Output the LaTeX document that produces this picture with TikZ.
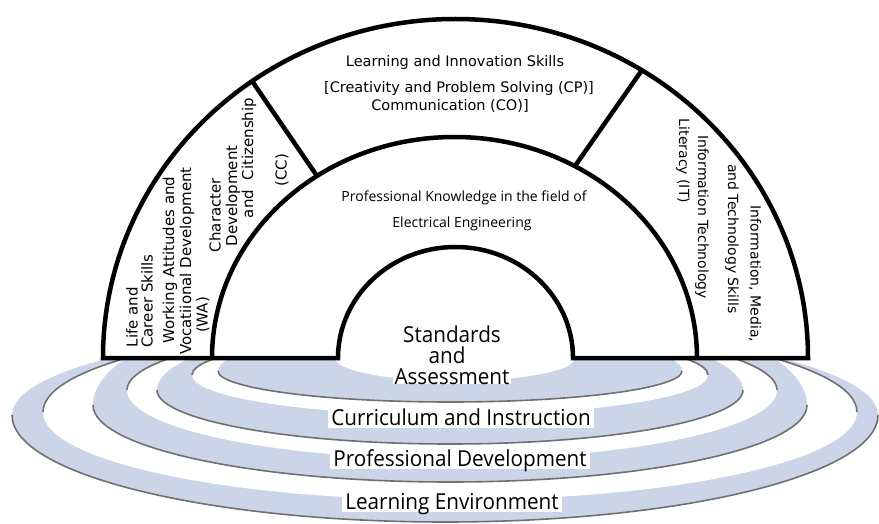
\documentclass[tikz,border=0pt]{standalone}
\usepackage{fontspec}
\setmainfont{DejaVu Sans}
\newfontfamily\knowfont{Open Sans}
\newfontfamily\ripplefont[FakeStretch=0.94]{Open Sans}
\definecolor{ringblue}{RGB}{203,213,232}
\definecolor{ringshade}{RGB}{112,112,112}

% one blue ripple: centre x, centre y, half width, upper half height, lower half height
\newcommand\rippleband[5]{%
  \fill[ringblue] ({#1-#3},#2) arc[start angle=180,end angle=360,x radius=#3,y radius=#4]
                  arc[start angle=0,end angle=180,x radius=#3,y radius=#5] -- cycle;
  \draw[shadeline] ({#1-#3},#2) arc[start angle=180,end angle=0,x radius=#3,y radius=#5];}
% the white hollow inside a ripple
\newcommand\ripplegap[5]{%
  \fill[white] ({#1-#3},#2) arc[start angle=180,end angle=360,x radius=#3,y radius=#4]
               arc[start angle=0,end angle=180,x radius=#3,y radius=#5] -- cycle;
  \draw[shadeline] ({#1-#3},#2) arc[start angle=180,end angle=360,x radius=#3,y radius=#4];}

\begin{document}
\begin{tikzpicture}[x=1pt,y=-1pt,
  archline/.style={line width=4.5pt, line join=miter},
  shadeline/.style={draw=ringshade, line width=1.6pt},
  toptext/.style={font=\fontsize{14.5}{17}\selectfont, inner sep=0pt, anchor=base},
  lefttext/.style={font=\fontsize{15}{17}\selectfont, inner sep=0pt, rotate=90},
  righttext/.style={font=\fontsize{14}{17}\selectfont, inner sep=0pt, rotate=-90},
  knowtext/.style={font=\knowfont\fontsize{14}{17}\selectfont, inner sep=0pt, anchor=base},
  coretext/.style={font=\ripplefont\fontsize{22}{24}\selectfont, inner xsep=2pt, inner ysep=0pt, anchor=base},
  ringlabel/.style={font=\ripplefont\fontsize{22}{24}\selectfont, fill=white, inner xsep=3pt,
                    inner ysep=0pt, text height=17pt, text depth=3pt, anchor=base},
]
\useasboundingbox (0,0) rectangle (879,524);
\fill[white] (0,0) rectangle (879,524);

% ripples, outermost first
\rippleband{445}{415}{433}{90}{107}
\ripplegap{450}{412}{407}{89}{88}
\rippleband{450}{405}{357}{111}{77}
\ripplegap{452}{390}{325}{64}{69}
\rippleband{450}{390}{293}{69}{54}
\ripplegap{450}{375}{258}{40}{40}
\rippleband{450}{371}{232}{40}{31}
\fill[white] (335,358) arc[start angle=180,end angle=0,x radius=120,y radius=23] -- cycle;

% the arch
\fill[white] (103,358) arc[start angle=180,end angle=360,x radius=352.5,y radius=339] -- cycle;
\draw[archline] (338,358) -- (103,358)
  arc[start angle=180,end angle=360,x radius=352.5,y radius=339] -- (573,358)
  arc[start angle=0,end angle=-180,x radius=117.5,y radius=111] -- cycle;
\draw[archline] (212,358) arc[start angle=180,end angle=360,x radius=242.5,y radius=221];

\coordinate (ldivout) at (252,81);
\coordinate (ldivin) at (317,176);
\coordinate (rdivout) at (642,70);
\coordinate (rdivin) at (575,166);
\draw[archline] (ldivout) -- (ldivin);
\draw[archline] (rdivout) -- (rdivin);

% learning and innovation
\node[toptext] (lis) at (455,67) {Learning and Innovation Skills};
\node[toptext] (cp) at (459,93) {[Creativity and Problem Solving (CP)]};
\node[toptext] (co) at (450,111) {Communication (CO)]};

% life and career
\node[lefttext] (life) at (132,317) {Life and};
\node[lefttext] (career) at (147,301) {Career Skills};
\node[lefttext] (wa1) at (170,260) {Working Attitudes and};
\node[lefttext] (wa2) at (187,261) {Vocatiional Development};
\node[lefttext] (wa3) at (203,315) {(WA)};
\node[lefttext] (cc1) at (215,215) {Character};
\node[lefttext] (cc2) at (233,196) {Development};
\node[lefttext] (cc3) at (249,158) {and~ Citizenship};
\node[lefttext] (cc4) at (282,170) {(CC)};

% information, media and technology
\node[righttext] (imt1) at (755,274) {Information, Media,};
\node[righttext] (imt2) at (732,239) {and Technology Skills};
\node[righttext] (it1) at (702,217) {Information Technology};
\node[righttext] (it2) at (683,161) {Literacy (IT)};

% professional knowledge
\node[knowtext] (pk1) at (464,201) {Professional Knowledge in the field of};
\node[knowtext] (pk2) at (462,227) {Electrical Engineering};

% core
\node[coretext] (std) at (452,342) {Standards};
\node[coretext] (stdand) at (447,363) {and};
\node[coretext, fill=white] (asm) at (452,384) {Assessment};

% support systems
\node[ringlabel] (ci) at (461,425) {Curriculum and Instruction};
\node[ringlabel] (pd) at (460,466) {Professional Development};
\node[ringlabel] (le) at (452,509) {Learning Environment};
\end{tikzpicture}
\end{document}
